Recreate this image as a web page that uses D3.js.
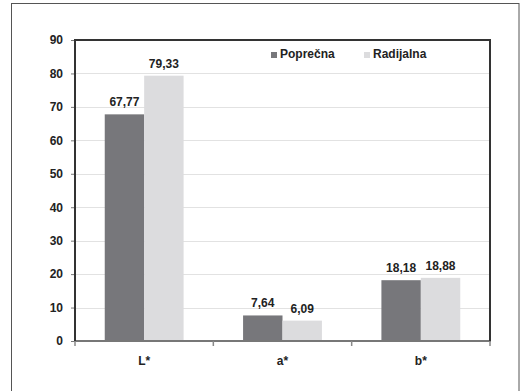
<!DOCTYPE html>
<html>
<head>
<meta charset="utf-8">
<script src="https://cdn.jsdelivr.net/npm/d3@7"></script>
<style>
  html, body { margin: 0; padding: 0; background: #fff; }
  svg text { font-family: "Liberation Sans", Arial, sans-serif; font-weight: bold; fill: #222; }
</style>
</head>
<body>
<svg id="chart" width="522" height="391"></svg>
<script>
// Colour coordinates per cut direction
const categories = ["L*", "a*", "b*"];
const seriesNames = ["Poprečna", "Radijalna"];
const poprecna = [67.77, 7.64, 18.18];
const radijalna = [79.33, 6.09, 18.88];
const yTicks = [0, 10, 20, 30, 40, 50, 60, 70, 80, 90];
const colors = ["#77777b", "#dcdcde"];

const series = [poprecna, radijalna];
const fmt = v => v.toFixed(2).replace(".", ",");

const svg = d3.select("#chart");
const plot = { left: 75, right: 490, top: 40, bottom: 341 };

// Outer frame
svg.append("rect")
  .attr("x", 11.5).attr("y", 3.5)
  .attr("width", 507.5).attr("height", 392)
  .attr("fill", "none").attr("stroke", "#555").attr("stroke-width", 1);

const y = d3.scaleLinear().domain([0, 90]).range([plot.bottom, plot.top]);
const x0 = d3.scaleBand().domain(categories).range([plot.left, plot.right])
  .paddingInner(0.43).paddingOuter(0.215);
const x1 = d3.scaleBand().domain(seriesNames).range([0, x0.bandwidth()]);

// Gridlines
svg.append("g").selectAll("line").data(yTicks.filter(t => t > 0)).join("line")
  .attr("x1", plot.left).attr("x2", plot.right)
  .attr("y1", d => Math.round(y(d)) + 0.5).attr("y2", d => Math.round(y(d)) + 0.5)
  .attr("stroke", "#e2e2e2").attr("stroke-width", 1);

// Bars
const groups = svg.append("g").selectAll("g").data(categories).join("g")
  .attr("transform", c => `translate(${x0(c)},0)`);
groups.selectAll("rect")
  .data((c, i) => seriesNames.map((s, j) => ({ s, j, v: series[j][i] })))
  .join("rect")
  .attr("x", d => x1(d.s))
  .attr("y", d => y(d.v))
  .attr("width", x1.bandwidth())
  .attr("height", d => y(0) - y(d.v))
  .attr("fill", d => colors[d.j]);

// Value labels
groups.selectAll("text")
  .data((c, i) => seriesNames.map((s, j) => ({ s, j, v: series[j][i] })))
  .join("text")
  .attr("x", d => x1(d.s) + x1.bandwidth() / 2)
  .attr("y", d => y(d.v) - 8)
  .attr("text-anchor", "middle")
  .attr("font-size", 12)
  .text(d => fmt(d.v));

// Y axis
const yAxis = svg.append("g").attr("transform", `translate(${plot.left},0)`)
  .call(d3.axisLeft(y).tickValues(yTicks).tickSize(4).tickPadding(8).tickSizeOuter(0));
yAxis.select(".domain").remove();
yAxis.selectAll(".tick line").attr("stroke", "#777");
yAxis.selectAll(".tick text").attr("font-size", 12).attr("font-family", null).attr("fill", "#222");

// X axis with ticks on band boundaries
const step = x0.step();
const xAxis = svg.append("g").attr("transform", `translate(0,${plot.bottom})`);
xAxis.append("line")
  .attr("x1", plot.left).attr("x2", plot.right + 1)
  .attr("stroke", "#777").attr("stroke-width", 2);
xAxis.selectAll("line.tk").data(d3.range(categories.length + 1)).join("line")
  .attr("class", "tk")
  .attr("x1", i => plot.left + i * step).attr("x2", i => plot.left + i * step)
  .attr("y1", 0).attr("y2", 5)
  .attr("stroke", "#888").attr("stroke-width", 1.5);
xAxis.selectAll("text").data(categories).join("text")
  .attr("x", c => x0(c) + x0.bandwidth() / 2)
  .attr("y", 24)
  .attr("text-anchor", "middle")
  .attr("font-size", 12)
  .text(c => c);

// Plot frame: top, left, right
svg.append("path")
  .attr("d", `M${plot.left},${plot.bottom}V${plot.top}H${plot.right}V${plot.bottom}`)
  .attr("fill", "none").attr("stroke", "#333").attr("stroke-width", 2);

// Legend
const legend = svg.append("g");
const legendX = [271, 364];
seriesNames.forEach((s, j) => {
  legend.append("rect")
    .attr("x", legendX[j]).attr("y", 52)
    .attr("width", 6).attr("height", 6)
    .attr("fill", colors[j]);
  legend.append("text")
    .attr("x", legendX[j] + 9).attr("y", 58)
    .attr("font-size", 12)
    .text(s);
});
</script>
</body>
</html>
